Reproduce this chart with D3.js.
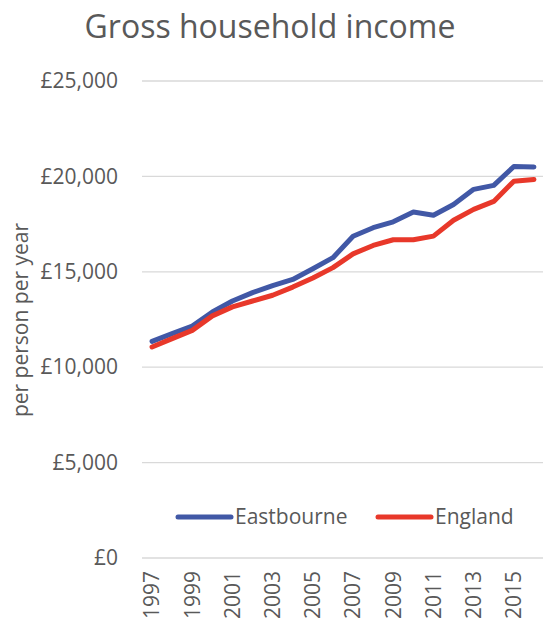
<!DOCTYPE html>
<html>
<head>
<meta charset="utf-8">
<script src="https://cdn.jsdelivr.net/npm/d3@7"></script>
<style>
  body { margin: 0; background: #fff; }
  svg text { font-family: "Open Sans", "Liberation Sans", sans-serif; fill: #595959; }
</style>
</head>
<body>
<div id="chart"></div>
<script>
// years and series
var years = [1997, 1998, 1999, 2000, 2001, 2002, 2003, 2004, 2005, 2006,
             2007, 2008, 2009, 2010, 2011, 2012, 2013, 2014, 2015, 2016];
var eastbourne = [11350, 11760, 12160, 12890, 13470, 13910, 14280, 14600, 15160, 15740,
                  16860, 17310, 17620, 18130, 17960, 18530, 19320, 19530, 20520, 20490];
var england = [11060, 11500, 11930, 12690, 13160, 13470, 13770, 14200, 14680, 15220,
               15940, 16380, 16680, 16680, 16870, 17700, 18270, 18690, 19750, 19840];
var yTicks = [0, 5000, 10000, 15000, 20000, 25000];
var seriesNames = ["Eastbourne", "England"];
var seriesColors = ["#4158A6", "#E8382A"];

var width = 543, height = 623;
var margin = {top: 81, right: 0, bottom: 65, left: 142};
var innerW = 402, innerH = height - margin.top - margin.bottom;

var svg = d3.select("#chart").append("svg")
  .attr("width", width)
  .attr("height", height);

svg.append("text")
  .attr("x", 270)
  .attr("y", 38)
  .attr("text-anchor", "middle")
  .style("font-size", "32px")
  .text("Gross household income");

var g = svg.append("g")
  .attr("transform", "translate(" + margin.left + "," + margin.top + ")");

var x = d3.scaleBand().domain(years).range([0, innerW]);
var y = d3.scaleLinear().domain([0, 25000]).range([innerH, 0]);

// gridlines
g.selectAll(".grid")
  .data(yTicks)
  .enter()
  .append("line")
  .attr("x1", 0)
  .attr("x2", innerW)
  .attr("y1", function(d) { return y(d); })
  .attr("y2", function(d) { return y(d); })
  .attr("stroke", "#D9D9D9")
  .attr("stroke-width", 1.3);

var yAxis = d3.axisLeft(y)
  .tickValues(yTicks)
  .tickSize(0)
  .tickPadding(24)
  .tickFormat(function(d) { return "£" + d3.format(",")(d); });

g.append("g")
  .call(yAxis)
  .call(function(s) { s.select(".domain").remove(); })
  .selectAll("text")
  .style("font-size", "21px");

var xAxis = d3.axisBottom(x)
  .tickValues(years.filter(function(d, i) { return i % 2 === 0; }))
  .tickSize(0);

g.append("g")
  .attr("transform", "translate(0," + innerH + ")")
  .call(xAxis)
  .call(function(s) { s.select(".domain").remove(); })
  .selectAll("text")
  .style("font-size", "21px")
  .attr("text-anchor", "end")
  .attr("transform", "rotate(-90)")
  .attr("x", -13)
  .attr("y", 0)
  .attr("dy", "0.35em");

svg.append("text")
  .attr("transform", "translate(28,320) rotate(-90)")
  .attr("text-anchor", "middle")
  .style("font-size", "21px")
  .text("per person per year");

var line = d3.line()
  .x(function(d, i) { return x(years[i]) + x.bandwidth() / 2; })
  .y(function(d) { return y(d); });

[eastbourne, england].forEach(function(vals, k) {
  g.append("path")
    .datum(vals)
    .attr("fill", "none")
    .attr("stroke", seriesColors[k])
    .attr("stroke-width", 5)
    .attr("stroke-linejoin", "round")
    .attr("stroke-linecap", "round")
    .attr("d", line);
});

// legend
var legend = svg.append("g");
seriesNames.forEach(function(name, k) {
  var lx = 178 + k * 200;
  legend.append("line")
    .attr("x1", lx)
    .attr("x2", lx + 53)
    .attr("y1", 517)
    .attr("y2", 517)
    .attr("stroke", seriesColors[k])
    .attr("stroke-width", 5)
    .attr("stroke-linecap", "round");
  legend.append("text")
    .attr("x", lx + 57)
    .attr("y", 517)
    .attr("dy", "0.35em")
    .style("font-size", "21px")
    .text(name);
});
</script>
</body>
</html>
